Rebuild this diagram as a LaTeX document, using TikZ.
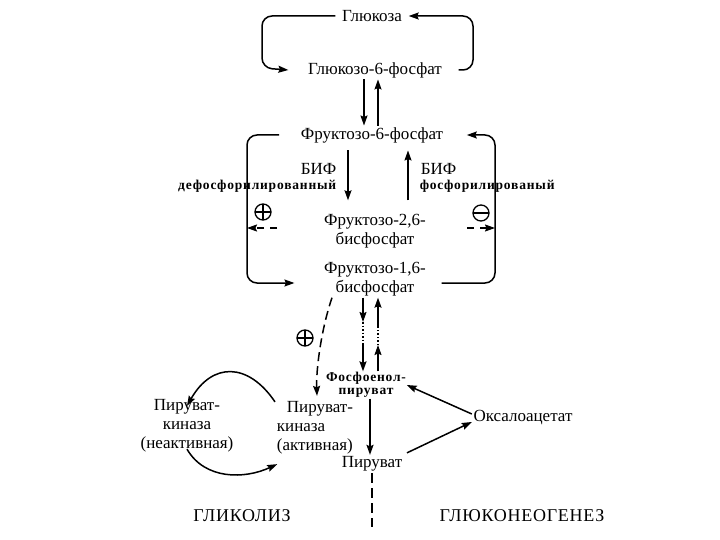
\documentclass[tikz,border=0pt]{standalone}
\usepackage{fontspec}
\setmainfont{Liberation Serif}
\usepackage{tikz}
\usetikzlibrary{arrows.meta, positioning, calc}

\begin{document}
\begin{tikzpicture}[x=1pt, y=-1pt, line width=1.5pt,
        every node/.style={font=\fontsize{17}{19}\selectfont, inner sep=1pt, align=center},
        lbl/.style={font=\bfseries\fontsize{13.5}{13.5}\selectfont\addfontfeature{LetterSpace=6}, inner sep=0pt},
        bif/.style={inner sep=0pt},
        sgnp/.style={circle, draw, line width=1.3pt, minimum size=16pt, inner sep=0pt,
            path picture={\draw[line width=1.3pt] (path picture bounding box.north) -- (path picture bounding box.south)
                (path picture bounding box.west) -- (path picture bounding box.east);}},
        sgnm/.style={circle, draw, line width=1.3pt, minimum size=16pt, inner sep=0pt,
            path picture={\draw[line width=1.3pt] (path picture bounding box.west) -- (path picture bounding box.east);}},
        arr/.style={-{Stealth[length=10pt, width=7pt, inset=1.5pt]}},
        dsh/.style={arr, dash pattern=on 9pt off 5pt}]
    \useasboundingbox (0,0) rectangle (720,540);
    % Glukoza
    \node (glc) at (372,16) {Глюкоза};
    \node (g6p) at (375,70) {Глюкозо-6-фосфат};
    \draw[arr, rounded corners=10pt] ([xshift=-5pt]glc.west) -- (262,16) -- (262,68) -- ([xshift=-18pt]g6p.west);
    \draw[arr, rounded corners=10pt] ([xshift=15pt]g6p.east) -- (473,70) -- (473,16) -- ([xshift=5pt]glc.east);
    % Fruktoza
    \node (f6p) at (372,135) {Фруктозо-6-фосфат};
    \draw[arr] ([xshift=-11pt]g6p.south) -- ([xshift=-11pt]g6p.south |- f6p.north);
    \draw[arr] ([xshift=3pt]g6p.south |- f6p.north) -- ([xshift=3pt]g6p.south);
    \node (f26) at (375,231) {Фруктозо-2,6-\\бисфосфат};
    \node (f16) at (375,279) {Фруктозо-1,6-\\бисфосфат};
    \draw[arr, shorten >=12pt, shorten <=6pt] ([xshift=-24pt]f6p.south) -- ([xshift=-24pt]f6p.south |- f26.north);
    \draw[arr, shorten <=12pt, shorten >=6pt] ([xshift=36pt]f6p.south |- f26.north) -- ([xshift=36pt]f6p.south);
    % BIF
    \node[bif, anchor=base east] (bifl) at (337,175) {БИФ};
    \node[lbl, anchor=base east] (dph) at (337,190) {дефосфорилированный};
    \node[bif, anchor=base west] (bifr) at (420,175) {БИФ};
    \node[lbl, anchor=base west] (ph) at (419,190) {фосфорилированый};
    % skobki
    \coordinate (lt) at (247,135);
    \coordinate (lb) at (247,283);
    \coordinate (rt) at (495,135);
    \coordinate (rb) at (495,283);
    \draw[arr, rounded corners=10pt] ([xshift=-20pt]f6p.west) -- (lt) -- (lb) -- ([xshift=-28pt]f16.west |- lb);
    \draw[arr, rounded corners=10pt] ([xshift=14pt]f16.east |- rb) -- (rb) -- (rt) -- ([xshift=22pt]f6p.east);
    % + i -
    \node[sgnp] (pl) at (263,212) {};
    \node[sgnm] (mn) at (481,213) {};
    \coordinate (pa) at (277,228);
    \coordinate (ma) at (467,228);
    \draw[arr, dash pattern=on 7pt off 6pt] (pa) -- (lt |- pa);
    \draw[arr, dash pattern=on 7pt off 6pt] (ma) -- (rt |- ma);
    % Fosfoenolpiruvat
    \node[lbl] (pep) at (366,385) {Фосфоенол-\\пируват};
    \coordinate (d1) at (363,322);
    \coordinate (d2) at (363,344);
    \coordinate (u1) at (378,345);
    \coordinate (u2) at (378,324);
    \draw[arr] (f16.south -| d1) -- (d1);
    \draw[dotted] (d1) -- (d2);
    \draw[arr] (d2) -- (d2 |- pep.north);
    \draw[arr] (pep.north -| u1) -- (u1);
    \draw[dotted] (u1) -- (u2);
    \draw[arr] ([yshift=-3pt]u2) -- (u2 |- f16.south);
    % Piruvatkinaza
    \node[align=left] (pka) at (315,428) {\hspace*{10pt}Пируват-\\киназа\\(активная)};
    \node (pki) at (187,426) {Пируват-\\киназа\\(неактивная)};
    \node[sgnp] (pl2) at (305,338) {};
    \draw[dsh] ([xshift=-43pt]f16.south) .. controls (321,330) and (316,370) .. ([xshift=2pt, yshift=4pt]pka.north);
    \draw[arr] ([xshift=-40pt, yshift=-2pt]pka.north) .. controls (248,362) and (212,362) .. ([yshift=-8pt]pki.north);
    \draw[arr] ([yshift=5pt]pki.south) to[out=-60, in=205] ([xshift=2pt, yshift=-8pt]pka.south west);
    % Piruvat, oksaloacetat
    \node (pyr) at (372,464) {Пируват};
    \node (oaa) at (523,418) {Оксалоацетат};
    \draw[arr] ([xshift=4pt]pep.south) -- ([xshift=4pt]pep.south |- pyr.north);
    \draw[arr] ([yshift=4pt]oaa.west) -- ([yshift=0pt]pep.east);
    \draw[arr] ([xshift=3pt, yshift=2pt]pyr.north east) -- ([yshift=-4pt]oaa.west);
    \coordinate (pend) at (372,527);
    \draw[dash pattern=on 10pt off 5pt] (pyr.south) -- (pend);
    % podpisi
    \node[font=\fontsize{18}{20}\selectfont\addfontfeature{LetterSpace=4}] (gly) at (242,516) {ГЛИКОЛИЗ};
    \node[font=\fontsize{18}{20}\selectfont\addfontfeature{LetterSpace=4}] (gng) at (522,516) {ГЛЮКОНЕОГЕНЕЗ};
\end{tikzpicture}
\end{document}
